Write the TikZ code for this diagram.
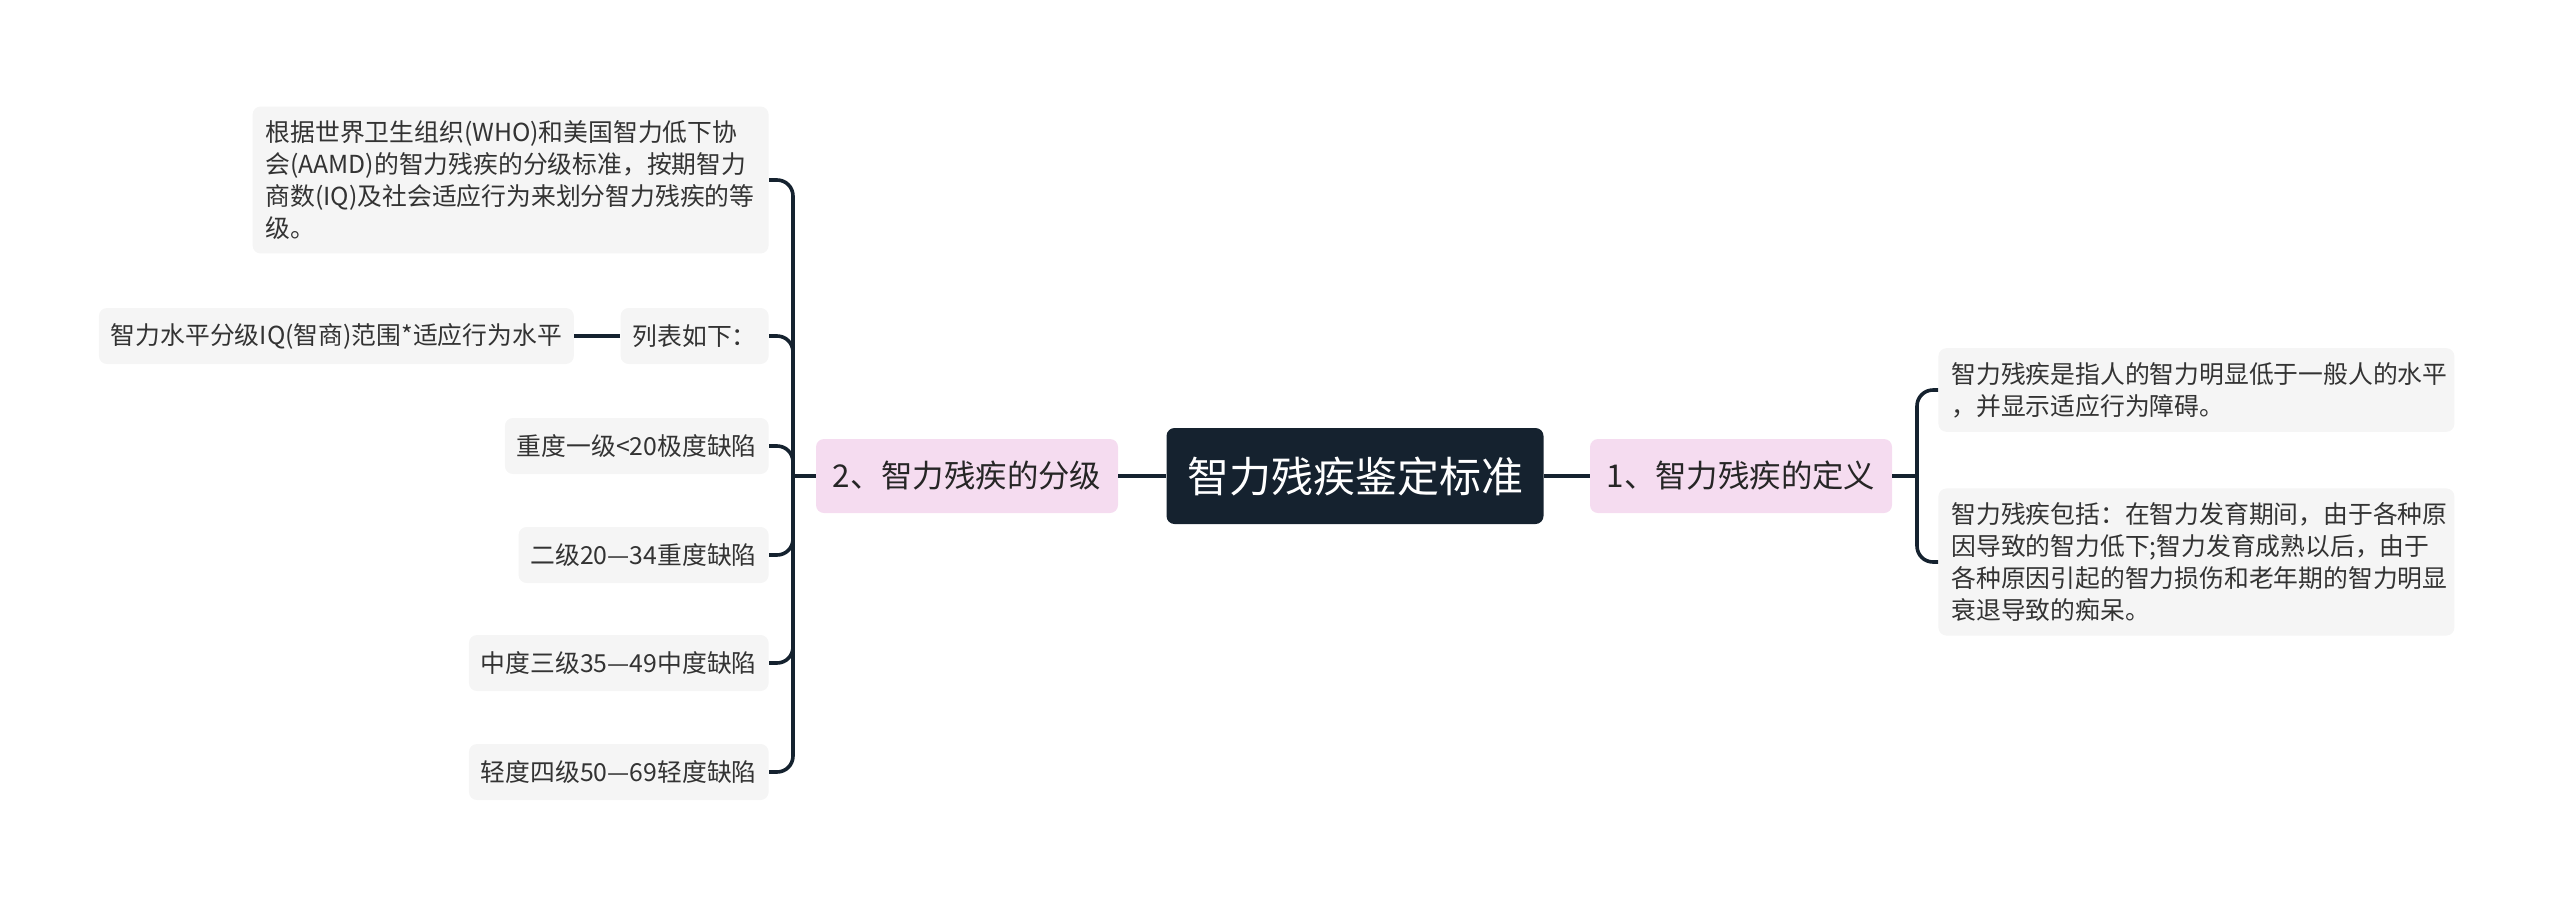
\documentclass[tikz,border=0pt]{standalone}
\usepackage{fontspec}
\setmainfont{Noto Sans CJK SC}
\usetikzlibrary{positioning}
\definecolor{rootnavy}{HTML}{15222F}
\definecolor{subpink}{HTML}{F5DCF0}
\definecolor{leafgray}{HTML}{F5F5F5}
\definecolor{leaftext}{HTML}{333333}

\begin{document}
\begin{tikzpicture}[x=0.5pt,y=-0.5pt,
  rootbox/.style={rectangle,rounded corners=4pt,fill=rootnavy,text=white,font=\fontsize{21}{25}\selectfont,minimum width=188.5pt,minimum height=48pt,inner sep=0pt},
  subbox/.style={rectangle,rounded corners=4pt,fill=subpink,text=black!85,font=\fontsize{15.7}{19}\selectfont,minimum width=151pt,minimum height=37pt,inner sep=0pt},
  leafbox/.style={rectangle,rounded corners=4pt,fill=leafgray,text=leaftext,font=\fontsize{12.4}{16}\selectfont,minimum height=28pt,inner xsep=6pt,inner ysep=0pt},
  notebox/.style={leafbox,text width=245pt,align=left,inner xsep=6.5pt,inner ysep=7pt},
  link/.style={draw=rootnavy,line width=1.8pt},
  branchlink/.style={link,rounded corners=8pt}]
\useasboundingbox (0,0) rectangle (2560,906);

\node[rootbox] (root) at (1355,476) {智力残疾鉴定标准};
\node[subbox] (def) at (1741,476) {1、智力残疾的定义};
\node[subbox] (grade) at (967,476) {2、智力残疾的分级};

% right side
\node[notebox,anchor=west] (defA) at (1938,390) {智力残疾是指人的智力明显低于一般人的水平\\，并显示适应行为障碍。};
\node[notebox,anchor=west] (defB) at (1938,562) {智力残疾包括：在智力发育期间，由于各种原\\因导致的智力低下;智力发育成熟以后，由于\\各种原因引起的智力损伤和老年期的智力明显\\衰退导致的痴呆。};

% left side
\node[notebox,anchor=east] (who) at (769,180) {根据世界卫生组织(WHO)和美国智力低下协\\会(AAMD)的智力残疾的分级标准，按期智力\\商数(IQ)及社会适应行为来划分智力残疾的等\\级。};
\node[leafbox,anchor=east] (list) at (769,336) {列表如下：};
\node[leafbox,left=23pt of list] (scale) {智力水平分级IQ(智商)范围*适应行为水平};
\node[leafbox,anchor=east] (lv1) at (769,446) {重度一级<20极度缺陷};
\node[leafbox,anchor=east] (lv2) at (769,555) {二级20—34重度缺陷};
\node[leafbox,anchor=east] (lv3) at (769,663) {中度三级35—49中度缺陷};
\node[leafbox,anchor=east] (lv4) at (769,772) {轻度四级50—69轻度缺陷};

\coordinate (gj) at (793,476);
\coordinate (dj) at (1917,476);

\draw[link] (root) -- (grade);
\draw[link] (root) -- (def);
\draw[link] (grade.west) -- (gj);
\foreach \n in {who,list,lv1,lv2,lv3,lv4}
  \draw[branchlink] (gj) |- (\n.east);
\draw[link] (list) -- (scale);
\draw[link] (def.east) -- (dj);
\foreach \n in {defA,defB}
  \draw[branchlink] (dj) |- (\n.west);

\end{tikzpicture}
\end{document}
